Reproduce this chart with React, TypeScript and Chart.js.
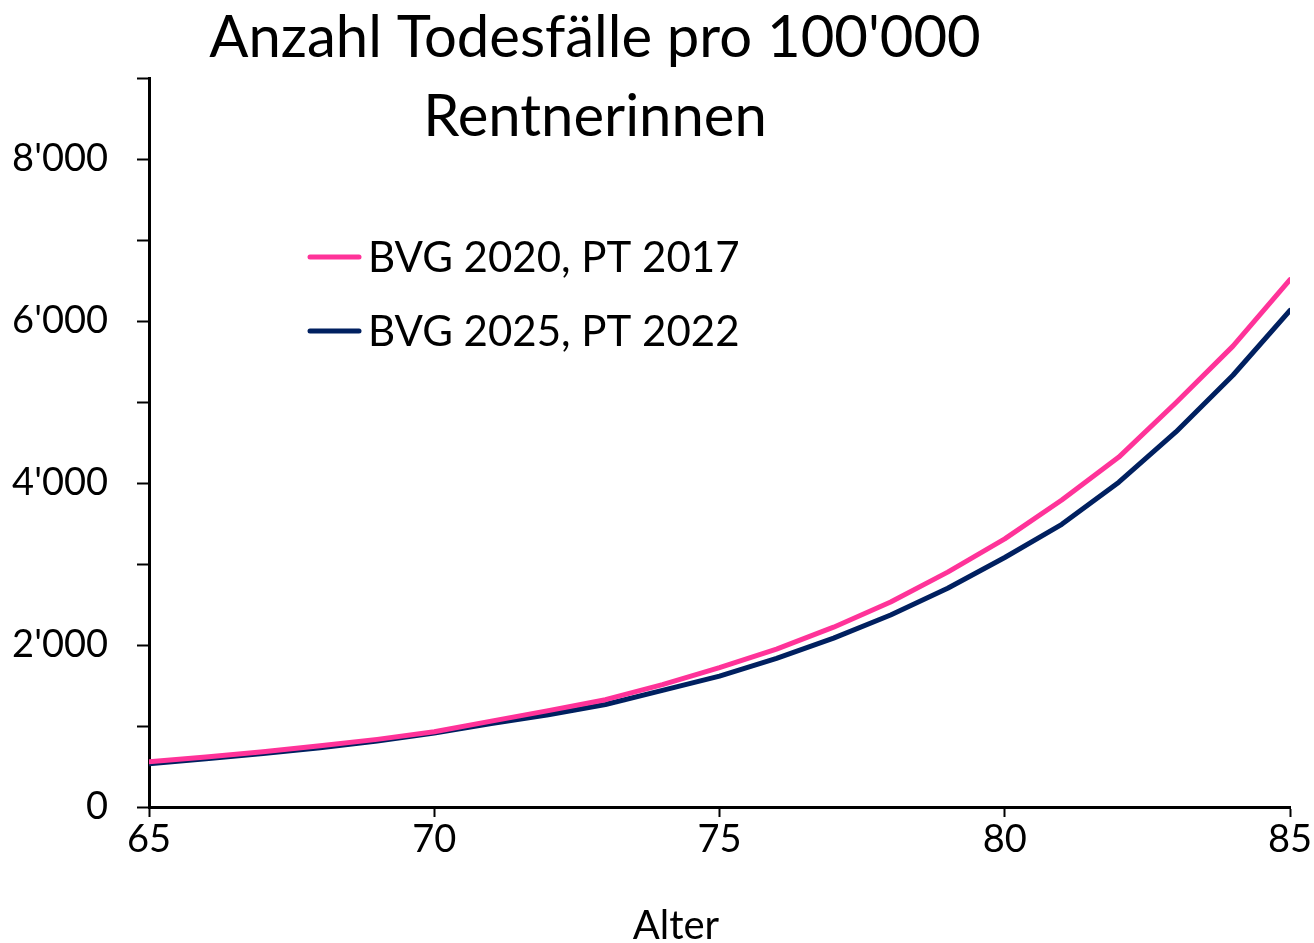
import React, { useEffect, useRef } from "react";
import { Chart, registerables } from "chart.js";

Chart.register(...registerables);

const ages = [65, 66, 67, 68, 69, 70, 71, 72, 73, 74, 75, 76, 77, 78, 79, 80, 81, 82, 83, 84, 85];
const bvg2020 = [560, 618, 683, 755, 835, 930, 1060, 1190, 1325, 1510, 1720, 1950, 2220, 2530, 2900, 3310, 3790, 4320, 4990, 5690, 6510];
const bvg2025 = [535, 595, 660, 732, 815, 912, 1030, 1140, 1265, 1440, 1615, 1835, 2085, 2370, 2700, 3080, 3490, 4010, 4630, 5330, 6130];
const seriesLabels = ["BVG 2020, PT 2017", "BVG 2025, PT 2022"];
const seriesColors = ["#FF3399", "#002060"];
const titleLines = ["Anzahl Todesfälle pro 100'000", "Rentnerinnen"];
const xTitle = "Alter";

const FONT = "Lato, 'Open Sans', sans-serif";

const overlay = {
  id: "overlay",
  afterDraw(chart: any) {
    const ctx = chart.ctx;
    ctx.save();
    ctx.fillStyle = "#000";
    ctx.textAlign = "center";
    ctx.textBaseline = "middle";
    ctx.font = `58px ${FONT}`;
    ctx.fillText(titleLines[0], 595, 38);
    ctx.fillText(titleLines[1], 595, 117);
    ctx.font = `40px ${FONT}`;
    ctx.fillText(xTitle, 676, 926);
    // legend
    const rows = [257, 331];
    ctx.font = `42px ${FONT}`;
    ctx.textAlign = "left";
    rows.forEach((y, i) => {
      ctx.strokeStyle = seriesColors[i];
      ctx.lineWidth = 5;
      ctx.lineCap = "round";
      ctx.beginPath();
      ctx.moveTo(310, y);
      ctx.lineTo(359, y);
      ctx.stroke();
      ctx.fillText(seriesLabels[i], 368, y + 1);
    });
    ctx.restore();
  },
};

export default function App() {
  const ref = useRef<HTMLCanvasElement>(null);
  useEffect(() => {
    if (!ref.current) return;
    const chart = new Chart(ref.current, {
      type: "line",
      data: {
        datasets: [
          {
            label: seriesLabels[0],
            data: ages.map((a, i) => ({ x: a, y: bvg2020[i] })),
            borderColor: seriesColors[0],
            borderWidth: 5,
            pointRadius: 0,
            tension: 0,
            borderCapStyle: "round",
            borderJoinStyle: "round",
          },
          {
            label: seriesLabels[1],
            data: ages.map((a, i) => ({ x: a, y: bvg2025[i] })),
            borderColor: seriesColors[1],
            borderWidth: 5,
            pointRadius: 0,
            tension: 0,
            borderCapStyle: "round",
            borderJoinStyle: "round",
          },
        ],
      },
      options: {
        animation: false,
        responsive: false,
        layout: { padding: { left: 0, right: 24, top: 78, bottom: 0 } },
        plugins: { legend: { display: false }, title: { display: false }, tooltip: { enabled: false } },
        scales: {
          x: {
            type: "linear",
            min: 65,
            max: 85,
            afterFit: (s: any) => { s.height = 136; },
            border: { display: true, color: "#000", width: 3 },
            grid: { drawOnChartArea: false, drawTicks: true, tickLength: 10, tickColor: "#000", tickWidth: 2 },
            ticks: { stepSize: 5, color: "#000", font: { family: FONT, size: 38 }, padding: 0, maxRotation: 0 },
          },
          y: {
            min: 0,
            max: 9000,
            afterFit: (s: any) => { s.width = 149; },
            border: { display: true, color: "#000", width: 3 },
            grid: { drawOnChartArea: false, drawTicks: true, tickLength: 12, tickColor: "#000", tickWidth: 2 },
            ticks: {
              stepSize: 1000,
              color: "#000",
              font: { family: FONT, size: 38 },
              padding: 29,
              callback: (v: any) => {
                const n = Number(v);
                if (n % 2000 !== 0) return "";
                return n === 0 ? "0" : `${n / 1000}'000`;
              },
            },
          },
        },
      },
      plugins: [overlay],
    });
    return () => chart.destroy();
  }, []);
  return (
    <div style={{ position: "fixed", left: 0, top: 0, width: 1314, height: 943, background: "#fff" }}>
      <canvas ref={ref} width={1314} height={943} style={{ width: 1314, height: 943 }} />
    </div>
  );
}
